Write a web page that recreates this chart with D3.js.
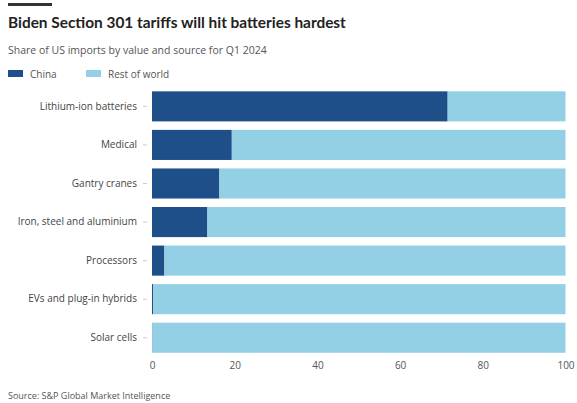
<!DOCTYPE html>
<html>
<head>
<meta charset="utf-8">
<script src="https://cdn.jsdelivr.net/npm/d3@7"></script>
<style>
  body { margin: 0; background: #fff; }
  text { font-family: "Open Sans", sans-serif; }
</style>
</head>
<body>
<div id="chart"></div>
<script>
// share of US imports by value, Q1 2024 (%)
const categories = ["Lithium-ion batteries", "Medical", "Gantry cranes", "Iron, steel and aluminium", "Processors", "EVs and plug-in hybrids", "Solar cells"];
const chinaShare = [71.5, 19.3, 16.3, 13.4, 3.0, 0.3, 0.1];
const seriesNames = ["China", "Rest of world"];
const xTicks = [0, 20, 40, 60, 80, 100];

const width = 577, height = 403;
const colors = ["#1f4f88", "#93d0e5"];
const bodyFont = "'Open Sans', sans-serif";

const svg = d3.select("#chart").append("svg")
  .attr("width", width)
  .attr("height", height);

// top rule
svg.append("rect").attr("x", 8).attr("y", 3).attr("width", 44).attr("height", 3).attr("fill", "#333");

svg.append("text")
  .attr("x", 8).attr("y", 28)
  .attr("font-size", 15.4).attr("font-weight", 700).attr("fill", "#222")
  .style("font-family", "Lato, sans-serif")
  .text("Biden Section 301 tariffs will hit batteries hardest");

svg.append("text")
  .attr("x", 8).attr("y", 54)
  .attr("font-size", 10.5).attr("fill", "#555")
  .text("Share of US imports by value and source for Q1 2024");

// legend
const legendX = [8, 86];
seriesNames.forEach((name, i) => {
  svg.append("rect").attr("x", legendX[i]).attr("y", 70).attr("width", 15).attr("height", 7).attr("fill", colors[i]);
  svg.append("text").attr("x", legendX[i] + 22).attr("y", 78)
    .attr("font-size", 10).attr("fill", "#555").text(name);
});

const x = d3.scaleLinear().domain([0, 100]).range([152, 565.5]);
const y = d3.scaleBand().domain(categories).range([86.7, 357.4]).paddingInner(0.22).paddingOuter(0.12);

const rows = categories.map((c, i) => ({ cat: c, china: chinaShare[i], rest: 100 - chinaShare[i] }));
const stacked = d3.stack().keys(["china", "rest"])(rows);

svg.append("g").selectAll("g")
  .data(stacked)
  .join("g")
    .attr("fill", (d, i) => colors[i])
  .selectAll("rect")
  .data(d => d)
  .join("rect")
    .attr("x", d => x(d[0]))
    .attr("y", d => y(d.data.cat))
    .attr("width", d => x(d[1]) - x(d[0]))
    .attr("height", y.bandwidth());

// category axis
const yAxis = svg.append("g")
  .attr("transform", "translate(147,0)")
  .call(d3.axisLeft(y).tickSize(4).tickPadding(6));
yAxis.select(".domain").remove();
yAxis.selectAll(".tick line").attr("stroke", "#ccc");
yAxis.selectAll(".tick text").attr("font-size", 10).attr("fill", "#444").style("font-family", bodyFont);

// value axis
const xAxis = svg.append("g")
  .attr("transform", "translate(0,356)")
  .call(d3.axisBottom(x).tickValues(xTicks).tickSize(0).tickPadding(6));
xAxis.select(".domain").remove();
xAxis.selectAll(".tick text").attr("font-size", 10).attr("fill", "#555").style("font-family", bodyFont);

svg.append("text")
  .attr("x", 8).attr("y", 399)
  .attr("font-size", 9).attr("fill", "#555")
  .text("Source: S&P Global Market Intelligence");
</script>
</body>
</html>
